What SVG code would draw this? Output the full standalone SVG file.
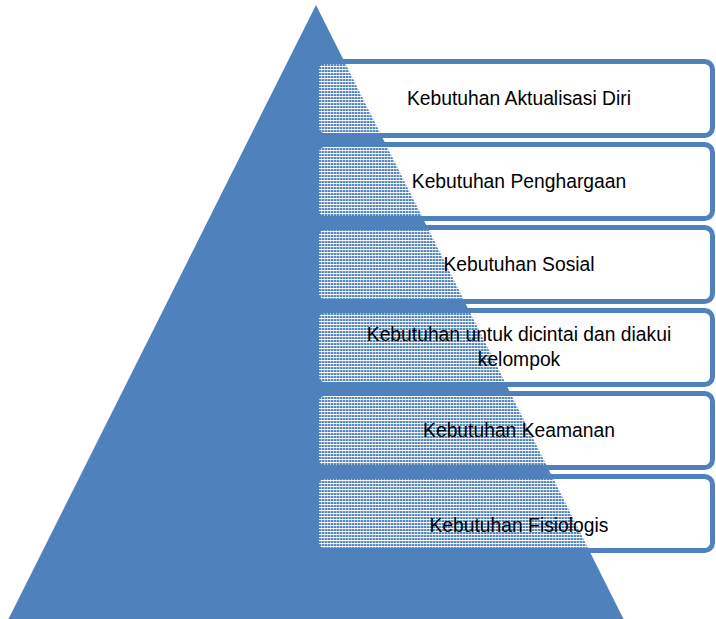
<svg xmlns="http://www.w3.org/2000/svg" width="716" height="619" viewBox="0 0 716 619">
  <style>
    .box { fill: url(#grid); stroke: #4f81bd; stroke-width: 5; }
    .lbl { font-family: "Liberation Sans", Arial, sans-serif; font-size: 19.3px; fill: #000000; text-anchor: middle; }
  </style>
  <defs>
    <pattern id="grid" patternUnits="userSpaceOnUse" x="0" y="0" width="3" height="3">
      <rect x="0" y="0" width="3" height="1.1" fill="#ffffff"/>
      <rect x="0" y="1.1" width="1" height="1.9" fill="#ffffff" fill-opacity="0.55"/>
    </pattern>
  </defs>
  <rect x="0" y="0" width="716" height="619" fill="#ffffff"/>
  <g id="pyramid">
    <polygon points="316,5 8,620 624,620" fill="#4f81bd"/>
  </g>
  <g id="node-aktualisasi">
    <rect class="box" x="316.5" y="61.5" width="396" height="74" rx="8" ry="8"/>
    <text class="lbl" x="519" y="105">Kebutuhan Aktualisasi Diri</text>
  </g>
  <g id="node-penghargaan">
    <rect class="box" x="316.5" y="144.5" width="396" height="74" rx="8" ry="8"/>
    <text class="lbl" x="519" y="188.3">Kebutuhan Penghargaan</text>
  </g>
  <g id="node-sosial">
    <rect class="box" x="316.5" y="227.5" width="396" height="74" rx="8" ry="8"/>
    <text class="lbl" x="519" y="270.7">Kebutuhan Sosial</text>
  </g>
  <g id="node-dicintai">
    <rect class="box" x="316.5" y="310.5" width="396" height="74" rx="8" ry="8"/>
    <text class="lbl" x="519" y="340.7">Kebutuhan untuk dicintai dan diakui</text>
    <text class="lbl" x="519" y="365.7">kelompok</text>
  </g>
  <g id="node-keamanan">
    <rect class="box" x="316.5" y="393.5" width="396" height="74" rx="8" ry="8"/>
    <text class="lbl" x="519" y="436.7">Kebutuhan Keamanan</text>
  </g>
  <g id="node-fisiologis">
    <rect class="box" x="316.5" y="476.5" width="396" height="74" rx="8" ry="8"/>
    <text class="lbl" x="519" y="531.7">Kebutuhan Fisiologis</text>
  </g>
</svg>
